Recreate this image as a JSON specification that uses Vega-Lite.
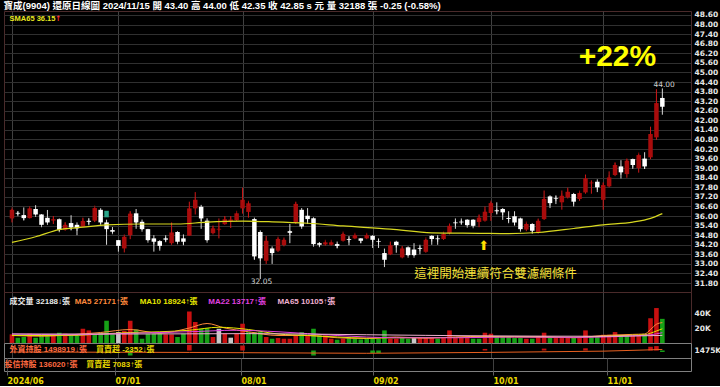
{
 "$schema": "https://vega.github.io/schema/vega-lite/v6.json",
 "background": "#000000",
 "padding": {"left": 3, "top": 0, "right": 0, "bottom": 0},
 "spacing": 0,
 "bounds": "flush",
 "title": {"text": "寶成(9904)    還原日線圖   2024/11/15  開 43.40  高 44.00  低 42.35  收 42.85 s 元  量 32188 張  -0.25 (-0.58%)", "anchor": "start", "color": "#ffffff", "fontSize": 9.5, "font": "Liberation Sans, 'Noto Sans CJK TC'", "fontWeight": "bold", "offset": 1, "dy": 1},
 "config": {
  "view": {"stroke": "#4a2a2a"},
  "axis": {"labelFont": "DejaVu Sans", "labelFontWeight": "bold", "labelFontSize": 7.5, "labelColor": "#e6e6e6", "title": null, "labelOverlap": false}
 },
 "datasets": {
  "candles": [
   {"i":0,"o":35.85,"h":36.45,"l":35.6,"c":36.39,"v":11500,"vc":"r"},
   {"i":1,"o":36.2,"h":36.3,"l":36.05,"c":36.15,"v":7100,"vc":"g"},
   {"i":2,"o":36.06,"h":36.54,"l":35.74,"c":35.87,"v":8000,"vc":"g"},
   {"i":3,"o":35.87,"h":36.54,"l":35.85,"c":36.48,"v":12400,"vc":"r"},
   {"i":4,"o":36.44,"h":36.68,"l":36.06,"c":36.1,"v":7100,"vc":"g"},
   {"i":5,"o":36.1,"h":36.12,"l":35.42,"c":35.45,"v":9300,"vc":"g"},
   {"i":6,"o":35.89,"h":36.38,"l":35.54,"c":35.6,"v":9300,"vc":"g"},
   {"i":7,"o":35.72,"h":36.0,"l":35.5,"c":35.8,"v":10200,"vc":"r"},
   {"i":8,"o":35.8,"h":35.85,"l":35.05,"c":35.14,"v":13700,"vc":"g"},
   {"i":9,"o":35.14,"h":35.6,"l":35.08,"c":35.45,"v":12400,"vc":"r"},
   {"i":10,"o":35.56,"h":36.05,"l":35.1,"c":35.29,"v":11000,"vc":"g"},
   {"i":11,"o":35.45,"h":35.6,"l":34.8,"c":35.23,"v":11000,"vc":"g"},
   {"i":12,"o":35.33,"h":35.9,"l":35.3,"c":35.69,"v":19000,"vc":"r"},
   {"i":13,"o":35.7,"h":35.88,"l":35.42,"c":35.64,"v":16800,"vc":"r"},
   {"i":14,"o":35.71,"h":36.54,"l":35.62,"c":36.5,"v":11500,"vc":"g"},
   {"i":15,"o":36.39,"h":36.49,"l":35.5,"c":35.6,"v":13700,"vc":"g"},
   {"i":16,"o":35.6,"h":35.77,"l":34.2,"c":35.18,"v":29700,"vc":"g"},
   {"i":17,"o":35.12,"h":35.31,"l":34.95,"c":35.02,"v":11500,"vc":"g"},
   {"i":18,"o":34.49,"h":34.49,"l":33.77,"c":34.13,"v":14600,"vc":"w"},
   {"i":19,"o":33.97,"h":34.77,"l":33.72,"c":34.7,"v":16000,"vc":"r"},
   {"i":20,"o":34.8,"h":36.3,"l":34.55,"c":36.15,"v":29700,"vc":"r"},
   {"i":21,"o":36.17,"h":36.44,"l":35.2,"c":35.6,"v":18100,"vc":"g"},
   {"i":22,"o":35.64,"h":35.78,"l":35.12,"c":35.18,"v":5700,"vc":"g"},
   {"i":23,"o":35.18,"h":35.2,"l":34.45,"c":34.49,"v":12400,"vc":"g"},
   {"i":24,"o":34.6,"h":34.8,"l":33.77,"c":34.39,"v":12400,"vc":"g"},
   {"i":25,"o":34.43,"h":34.49,"l":33.83,"c":34.13,"v":12400,"vc":"g"},
   {"i":26,"o":34.6,"h":34.8,"l":34.4,"c":34.52,"v":11500,"vc":"r"},
   {"i":27,"o":34.3,"h":35.6,"l":34.2,"c":34.97,"v":11500,"vc":"r"},
   {"i":28,"o":35.0,"h":35.05,"l":34.35,"c":34.39,"v":8000,"vc":"g"},
   {"i":29,"o":34.6,"h":34.85,"l":34.17,"c":34.39,"v":12400,"vc":"g"},
   {"i":30,"o":34.77,"h":36.9,"l":34.77,"c":36.48,"v":42000,"vc":"r"},
   {"i":31,"o":36.48,"h":37.5,"l":36.1,"c":37.02,"v":28000,"vc":"r"},
   {"i":32,"o":36.58,"h":36.7,"l":35.2,"c":35.85,"v":19000,"vc":"g"},
   {"i":33,"o":35.71,"h":35.86,"l":34.45,"c":34.49,"v":19900,"vc":"g"},
   {"i":34,"o":34.93,"h":35.4,"l":34.85,"c":35.23,"v":8000,"vc":"r"},
   {"i":35,"o":35.15,"h":35.85,"l":34.6,"c":35.2,"v":19000,"vc":"w"},
   {"i":36,"o":35.49,"h":36.0,"l":35.45,"c":35.8,"v":12400,"vc":"r"},
   {"i":37,"o":35.7,"h":36.0,"l":35.25,"c":35.78,"v":7100,"vc":"w"},
   {"i":38,"o":35.74,"h":36.2,"l":35.7,"c":36.17,"v":12400,"vc":"r"},
   {"i":39,"o":36.48,"h":37.78,"l":36.15,"c":37.02,"v":25700,"vc":"r"},
   {"i":40,"o":36.26,"h":36.9,"l":35.9,"c":36.8,"v":14600,"vc":"g"},
   {"i":41,"o":35.81,"h":35.9,"l":33.25,"c":33.47,"v":14600,"vc":"g"},
   {"i":42,"o":35.0,"h":35.1,"l":32.05,"c":33.35,"v":14600,"vc":"g"},
   {"i":43,"o":33.2,"h":34.75,"l":33.0,"c":34.45,"v":8000,"vc":"r"},
   {"i":44,"o":33.97,"h":34.1,"l":33.0,"c":33.68,"v":5700,"vc":"g"},
   {"i":45,"o":33.83,"h":34.65,"l":33.75,"c":34.56,"v":6600,"vc":"r"},
   {"i":46,"o":34.18,"h":34.6,"l":34.1,"c":34.51,"v":5700,"vc":"r"},
   {"i":47,"o":35.05,"h":35.5,"l":34.3,"c":34.95,"v":5700,"vc":"r"},
   {"i":48,"o":35.6,"h":36.87,"l":35.5,"c":36.76,"v":10200,"vc":"r"},
   {"i":49,"o":36.39,"h":36.5,"l":35.29,"c":35.35,"v":14600,"vc":"g"},
   {"i":50,"o":36.02,"h":36.5,"l":35.5,"c":35.81,"v":10200,"vc":"r"},
   {"i":51,"o":35.86,"h":35.92,"l":34.2,"c":34.24,"v":19000,"vc":"g"},
   {"i":52,"o":34.3,"h":34.35,"l":34.1,"c":34.2,"v":10200,"vc":"g"},
   {"i":53,"o":34.22,"h":34.4,"l":34.15,"c":34.35,"v":10200,"vc":"r"},
   {"i":54,"o":34.2,"h":34.4,"l":34.15,"c":34.35,"v":5700,"vc":"r"},
   {"i":55,"o":34.24,"h":34.4,"l":34.0,"c":34.13,"v":4400,"vc":"g"},
   {"i":56,"o":34.45,"h":34.95,"l":34.4,"c":34.87,"v":5700,"vc":"r"},
   {"i":57,"o":34.55,"h":34.75,"l":34.17,"c":34.5,"v":6600,"vc":"g"},
   {"i":58,"o":34.6,"h":34.85,"l":34.55,"c":34.8,"v":5700,"vc":"g"},
   {"i":59,"o":34.6,"h":34.6,"l":34.3,"c":34.45,"v":4800,"vc":"g"},
   {"i":60,"o":34.6,"h":34.85,"l":34.55,"c":34.8,"v":5700,"vc":"g"},
   {"i":61,"o":34.76,"h":34.8,"l":34.0,"c":34.51,"v":5700,"vc":"g"},
   {"i":62,"o":34.42,"h":34.6,"l":34.0,"c":34.38,"v":5700,"vc":"g"},
   {"i":63,"o":33.68,"h":33.96,"l":32.8,"c":33.26,"v":16800,"vc":"g"},
   {"i":64,"o":33.6,"h":34.4,"l":33.55,"c":34.17,"v":5700,"vc":"r"},
   {"i":65,"o":34.39,"h":34.45,"l":33.7,"c":34.18,"v":5700,"vc":"r"},
   {"i":66,"o":33.41,"h":34.1,"l":33.35,"c":33.97,"v":6600,"vc":"g"},
   {"i":67,"o":34.04,"h":34.1,"l":33.5,"c":33.55,"v":5700,"vc":"g"},
   {"i":68,"o":33.9,"h":34.3,"l":33.5,"c":33.55,"v":6600,"vc":"w"},
   {"i":69,"o":34.0,"h":34.2,"l":33.6,"c":33.95,"v":6600,"vc":"r"},
   {"i":70,"o":33.76,"h":34.56,"l":33.7,"c":34.51,"v":6600,"vc":"r"},
   {"i":71,"o":34.76,"h":34.8,"l":34.2,"c":34.56,"v":6600,"vc":"r"},
   {"i":72,"o":34.6,"h":34.8,"l":34.2,"c":34.55,"v":5700,"vc":"g"},
   {"i":73,"o":34.56,"h":34.95,"l":34.5,"c":34.87,"v":6600,"vc":"r"},
   {"i":74,"o":34.93,"h":35.5,"l":34.85,"c":35.39,"v":16800,"vc":"r"},
   {"i":75,"o":35.6,"h":35.85,"l":35.2,"c":35.55,"v":6600,"vc":"r"},
   {"i":76,"o":35.65,"h":35.85,"l":35.5,"c":35.6,"v":6600,"vc":"r"},
   {"i":77,"o":35.77,"h":35.8,"l":35.4,"c":35.43,"v":6600,"vc":"r"},
   {"i":78,"o":35.77,"h":35.8,"l":35.35,"c":35.39,"v":5700,"vc":"g"},
   {"i":79,"o":35.63,"h":36.1,"l":35.3,"c":35.9,"v":5700,"vc":"g"},
   {"i":80,"o":35.71,"h":36.6,"l":35.65,"c":36.27,"v":13700,"vc":"r"},
   {"i":81,"o":36.19,"h":36.9,"l":35.7,"c":36.81,"v":12400,"vc":"r"},
   {"i":82,"o":36.36,"h":36.86,"l":36.1,"c":36.3,"v":8000,"vc":"g"},
   {"i":83,"o":36.44,"h":36.5,"l":35.76,"c":36.23,"v":8000,"vc":"g"},
   {"i":84,"o":35.88,"h":36.3,"l":35.55,"c":35.82,"v":8000,"vc":"g"},
   {"i":85,"o":35.98,"h":36.3,"l":35.4,"c":35.6,"v":6600,"vc":"g"},
   {"i":86,"o":35.85,"h":35.9,"l":35.1,"c":35.18,"v":6600,"vc":"g"},
   {"i":87,"o":35.15,"h":35.55,"l":35.05,"c":35.5,"v":5700,"vc":"r"},
   {"i":88,"o":35.5,"h":35.55,"l":34.9,"c":35.08,"v":5700,"vc":"g"},
   {"i":89,"o":34.97,"h":35.8,"l":34.9,"c":35.7,"v":9300,"vc":"r"},
   {"i":90,"o":35.81,"h":37.6,"l":35.75,"c":37.07,"v":13700,"vc":"r"},
   {"i":91,"o":37.23,"h":37.3,"l":36.5,"c":36.81,"v":8000,"vc":"g"},
   {"i":92,"o":37.12,"h":37.3,"l":36.75,"c":37.08,"v":6600,"vc":"r"},
   {"i":93,"o":36.86,"h":37.6,"l":36.4,"c":37.27,"v":6600,"vc":"r"},
   {"i":94,"o":37.17,"h":37.78,"l":37.1,"c":37.52,"v":6600,"vc":"r"},
   {"i":95,"o":37.38,"h":37.45,"l":36.6,"c":36.9,"v":6600,"vc":"g"},
   {"i":96,"o":37.07,"h":37.48,"l":36.95,"c":37.44,"v":6600,"vc":"r"},
   {"i":97,"o":37.48,"h":38.6,"l":37.4,"c":38.36,"v":16800,"vc":"r"},
   {"i":98,"o":38.05,"h":38.2,"l":37.4,"c":38.1,"v":8000,"vc":"g"},
   {"i":99,"o":38.15,"h":38.3,"l":37.5,"c":37.8,"v":8000,"vc":"g"},
   {"i":100,"o":37.02,"h":38.1,"l":36.4,"c":37.94,"v":11000,"vc":"r"},
   {"i":101,"o":37.86,"h":38.8,"l":37.8,"c":38.42,"v":11000,"vc":"r"},
   {"i":102,"o":38.57,"h":39.35,"l":38.5,"c":39.2,"v":14600,"vc":"r"},
   {"i":103,"o":39.11,"h":39.5,"l":38.35,"c":38.74,"v":10200,"vc":"g"},
   {"i":104,"o":38.63,"h":39.57,"l":38.4,"c":39.47,"v":10200,"vc":"g"},
   {"i":105,"o":39.57,"h":39.6,"l":38.95,"c":39.2,"v":10200,"vc":"r"},
   {"i":106,"o":39.0,"h":39.88,"l":38.72,"c":39.82,"v":11000,"vc":"r"},
   {"i":107,"o":39.6,"h":40.0,"l":38.95,"c":39.11,"v":12400,"vc":"g"},
   {"i":108,"o":39.68,"h":41.6,"l":39.57,"c":41.14,"v":33000,"vc":"r"},
   {"i":109,"o":40.93,"h":43.95,"l":40.78,"c":43.08,"v":46600,"vc":"r"},
   {"i":110,"o":43.4,"h":44.0,"l":42.35,"c":42.85,"v":32188,"vc":"g"}
  ],
  "sma": [
   {"i":0,"p":34.35},{"i":4,"p":34.7},{"i":8,"p":35.15},{"i":12,"p":35.3},{"i":16,"p":35.45},{"i":22,"p":35.5},{"i":28,"p":35.5},{"i":33,"p":35.62},{"i":39,"p":35.68},{"i":44,"p":35.64},{"i":50,"p":35.55},{"i":56,"p":35.38},{"i":64,"p":35.18},{"i":71,"p":34.95},{"i":79,"p":34.92},{"i":84,"p":34.9},{"i":89,"p":34.97},{"i":95,"p":35.22},{"i":100,"p":35.45},{"i":105,"p":35.62},{"i":108,"p":35.85},{"i":110,"p":36.15}
  ],
  "vma": [
   {"i":0,"m":"ma5","v":10000},{"i":5,"m":"ma5","v":9000},{"i":10,"m":"ma5","v":11000},{"i":15,"m":"ma5","v":14000},{"i":20,"m":"ma5","v":18000},{"i":25,"m":"ma5","v":13000},{"i":30,"m":"ma5","v":20000},{"i":33,"m":"ma5","v":26000},{"i":36,"m":"ma5","v":20000},{"i":40,"m":"ma5","v":15000},{"i":45,"m":"ma5","v":10000},{"i":50,"m":"ma5","v":10000},{"i":55,"m":"ma5","v":7000},{"i":60,"m":"ma5","v":6000},{"i":65,"m":"ma5","v":8000},{"i":70,"m":"ma5","v":6500},{"i":75,"m":"ma5","v":8000},{"i":80,"m":"ma5","v":9000},{"i":85,"m":"ma5","v":8000},{"i":90,"m":"ma5","v":8000},{"i":95,"m":"ma5","v":7000},{"i":100,"m":"ma5","v":10000},{"i":105,"m":"ma5","v":11500},{"i":107,"m":"ma5","v":12000},{"i":108,"m":"ma5","v":18000},{"i":109,"m":"ma5","v":25000},{"i":110,"m":"ma5","v":27171},
   {"i":0,"m":"ma10","v":10000},{"i":10,"m":"ma10","v":10000},{"i":15,"m":"ma10","v":12000},{"i":20,"m":"ma10","v":14000},{"i":25,"m":"ma10","v":15000},{"i":30,"m":"ma10","v":17000},{"i":35,"m":"ma10","v":21000},{"i":40,"m":"ma10","v":18000},{"i":45,"m":"ma10","v":12000},{"i":50,"m":"ma10","v":10000},{"i":55,"m":"ma10","v":8000},{"i":60,"m":"ma10","v":6500},{"i":65,"m":"ma10","v":7000},{"i":70,"m":"ma10","v":7000},{"i":75,"m":"ma10","v":7500},{"i":80,"m":"ma10","v":8000},{"i":85,"m":"ma10","v":8500},{"i":90,"m":"ma10","v":8000},{"i":95,"m":"ma10","v":7500},{"i":100,"m":"ma10","v":9000},{"i":105,"m":"ma10","v":10500},{"i":107,"m":"ma10","v":11000},{"i":108,"m":"ma10","v":13000},{"i":109,"m":"ma10","v":16000},{"i":110,"m":"ma10","v":18924},
   {"i":0,"m":"ma22","v":12000},{"i":10,"m":"ma22","v":11000},{"i":20,"m":"ma22","v":13000},{"i":30,"m":"ma22","v":15000},{"i":38,"m":"ma22","v":17000},{"i":45,"m":"ma22","v":15000},{"i":55,"m":"ma22","v":10000},{"i":65,"m":"ma22","v":7000},{"i":75,"m":"ma22","v":7000},{"i":85,"m":"ma22","v":8000},{"i":95,"m":"ma22","v":7500},{"i":105,"m":"ma22","v":9500},{"i":108,"m":"ma22","v":11000},{"i":110,"m":"ma22","v":13717},
   {"i":0,"m":"ma65","v":12000},{"i":20,"m":"ma65","v":12000},{"i":40,"m":"ma65","v":12500},{"i":60,"m":"ma65","v":11000},{"i":80,"m":"ma65","v":9500},{"i":100,"m":"ma65","v":9000},{"i":110,"m":"ma65","v":10105}
  ]
 },
 "vconcat": [
  {
   "width": 687, "height": 281,
   "encoding": {
    "x": {"field": "i", "type": "quantitative", "scale": {"domain": [-0.5, 114], "nice": false, "zero": false},
          "axis": {"values": [0, 18, 39, 61, 81, 100], "labels": false, "ticks": false, "domain": false, "grid": true, "gridColor": "#404040", "tickCount": 20}}
   },
   "layer": [
    {"data": {"name": "candles"}, "mark": {"type": "rule", "strokeWidth": 1},
     "encoding": {
      "y": {"field": "l", "type": "quantitative", "scale": {"domain": [31.24, 48.85], "nice": false, "zero": false},
            "axis": {"orient": "right", "values": [31.8,32.4,33,33.6,34.2,34.8,35.4,36,36.6,37.2,37.8,38.4,39,39.6,40.2,40.8,41.4,42,42.6,43.2,43.8,44.4,45,45.6,46.2,46.8,47.4,48,48.6], "tickCount": 60, "format": ".2f", "grid": true, "gridColor": "#303030", "domain": false, "ticks": false, "labelPadding": 3, "labelFontSize": 7.5, "labelOverlap": false, "labelBound": false}},
      "y2": {"field": "h"},
      "color": {"condition": {"test": "datum.c >= datum.o", "value": "#d01818"}, "value": "#d8d8d8"}
     }},
    {"data": {"name": "candles"}, "mark": {"type": "bar", "width": 4.5},
     "encoding": {
      "y": {"field": "o", "type": "quantitative"},
      "y2": {"field": "c"},
      "color": {"condition": {"test": "datum.c >= datum.o", "value": "#a80c0c"}, "value": "#ffffff"}
     }},
    {"data": {"name": "candles"}, "mark": {"type": "tick", "width": 5, "thickness": 1},
     "encoding": {
      "y": {"field": "c", "type": "quantitative"},
      "color": {"condition": {"test": "datum.c >= datum.o", "value": "#c01010"}, "value": "#ffffff"}
     }},
    {"data": {"values": [{"i": 16, "top": 36.33, "bot": 35.92}]}, "mark": {"type": "bar", "width": 4.5, "color": "#2aa58a"},
     "encoding": {"y": {"field": "top", "type": "quantitative"}, "y2": {"field": "bot"}}},
    {"data": {"name": "sma"}, "mark": {"type": "line", "color": "#d8d820", "strokeWidth": 1.2, "interpolate": "monotone"},
     "encoding": {"y": {"field": "p", "type": "quantitative"}}},
    {"data": {"values": [{"i": 102.4, "p": 45.97, "t": "+22%"}]},
     "mark": {"type": "text", "font": "Liberation Sans", "fontWeight": "bold", "fontSize": 30, "color": "#ffff00", "align": "center", "baseline": "middle"},
     "encoding": {"y": {"field": "p", "type": "quantitative"}, "text": {"field": "t"}}},
    {"data": {"values": [{"i": 110.3, "p": 44.2, "t": "44.00"}, {"i": 42.2, "p": 31.88, "t": "32.05"}]},
     "mark": {"type": "text", "font": "DejaVu Sans", "fontSize": 7.5, "color": "#d0d0d0", "align": "center", "baseline": "middle"},
     "encoding": {"y": {"field": "p", "type": "quantitative"}, "text": {"field": "t"}}},
    {"data": {"values": [{"i": 79.8, "p": 34.12, "t": "⬆"}]},
     "mark": {"type": "text", "font": "DejaVu Sans", "fontSize": 13, "color": "#ffe000", "align": "center", "baseline": "middle"},
     "encoding": {"y": {"field": "p", "type": "quantitative"}, "text": {"field": "t"}}},
    {"data": {"values": [{"i": 81.8, "p": 32.36, "t": "這裡開始連續符合雙濾網條件"}]},
     "mark": {"type": "text", "font": "Noto Sans CJK TC", "fontSize": 12.5, "color": "#f5e03a", "align": "center", "baseline": "middle"},
     "encoding": {"y": {"field": "p", "type": "quantitative"}, "text": {"field": "t"}}},
    {"data": {"values": [{"i": -0.4, "p": 48.33, "t": "SMA65 36.15"}]},
     "mark": {"type": "text", "font": "Liberation Sans", "fontWeight": "bold", "fontSize": 7.5, "color": "#e8e820", "align": "left", "baseline": "middle"},
     "encoding": {"y": {"field": "p", "type": "quantitative"}, "text": {"field": "t"}}},
    {"data": {"values": [{"i": 7.3, "p": 48.33, "t": "↑"}]},
     "mark": {"type": "text", "font": "DejaVu Sans", "fontWeight": "bold", "fontSize": 7.5, "color": "#ff3030", "align": "left", "baseline": "middle"},
     "encoding": {"y": {"field": "p", "type": "quantitative"}, "text": {"field": "t"}}}
   ]
  },
  {
   "width": 687, "height": 51,
   "resolve": {"scale": {"color": "independent"}},
   "encoding": {
    "x": {"field": "i", "type": "quantitative", "scale": {"domain": [-0.5, 114], "nice": false, "zero": false},
          "axis": {"values": [0, 18, 39, 61, 81, 100], "labels": false, "ticks": false, "domain": false, "grid": true, "gridColor": "#404040", "tickCount": 20}}
   },
   "layer": [
    {"data": {"name": "candles"}, "mark": {"type": "bar", "width": 4.6},
     "encoding": {
      "y": {"field": "v", "type": "quantitative", "scale": {"domain": [0, 68000], "nice": false},
            "axis": {"orient": "right", "values": [20000, 40000], "tickCount": 10, "labelExpr": "datum.value/1000 + 'K'", "grid": false, "domain": false, "ticks": false, "labelPadding": 3}},
      "color": {"field": "vc", "type": "nominal", "scale": {"domain": ["r", "g", "w"], "range": ["#c81010", "#16a016", "#c8c8c8"]}, "legend": null}
     }},
    {"data": {"name": "vma"}, "mark": {"type": "line", "strokeWidth": 1, "interpolate": "monotone"},
     "encoding": {
      "y": {"field": "v", "type": "quantitative"},
      "color": {"field": "m", "type": "nominal", "scale": {"domain": ["ma5", "ma10", "ma22", "ma65"], "range": ["#ff8a3c", "#e6e600", "#e040e0", "#f0b0d0"]}, "legend": null}
     }},
    {"data": {"values": [
      {"i": -0.4, "y": 55000, "t": "成交量 32188↓張", "k": "vol"},
      {"i": 10.6, "y": 55000, "t": "MA5 27171↑張", "k": "ma5"},
      {"i": 21.6, "y": 55000, "t": "MA10 18924↑張", "k": "ma10"},
      {"i": 33.2, "y": 55000, "t": "MA22 13717↑張", "k": "ma22"},
      {"i": 44.9, "y": 55000, "t": "MA65 10105↑張", "k": "ma65"}]},
     "mark": {"type": "text", "font": "Liberation Sans, 'Noto Sans CJK TC'", "fontWeight": "bold", "fontSize": 8, "align": "left", "baseline": "middle"},
     "encoding": {
      "y": {"field": "y", "type": "quantitative"},
      "text": {"field": "t"},
      "color": {"field": "k", "type": "nominal", "scale": {"domain": ["vol", "ma5", "ma10", "ma22", "ma65"], "range": ["#e8e8e8", "#ff8a3c", "#e6e600", "#e040e0", "#f0b0d0"]}, "legend": null}
     }}
   ]
  },
  {
   "width": 687, "height": 15,
   "view": {"stroke": "#808080"},
   "resolve": {"scale": {"y": "independent"}},
   "encoding": {
    "x": {"field": "i", "type": "quantitative", "scale": {"domain": [-0.5, 114], "nice": false, "zero": false},
          "axis": {"values": [0, 18, 39, 61, 81, 100], "labels": false, "ticks": false, "domain": false, "grid": true, "gridColor": "#404040", "tickCount": 20}}
   },
   "layer": [
    {"data": {"values": [{"i": 12, "n": 3000}, {"i": 20, "n": -8000}, {"i": 30, "n": 9000}, {"i": 39, "n": 8000}, {"i": 51, "n": -8000}, {"i": 61, "n": -4000}, {"i": 62, "n": -4000}, {"i": 80, "n": 2500}, {"i": 90, "n": 3000}, {"i": 97, "n": 3500}, {"i": 108, "n": 6000}, {"i": 109, "n": 7000}, {"i": 110, "n": -2352}]},
     "mark": {"type": "bar", "width": 4.6},
     "encoding": {
      "y": {"field": "n", "type": "quantitative", "scale": {"domain": [-12000, 12000], "nice": false}, "axis": null},
      "color": {"condition": {"test": "datum.n > 0", "value": "#c81010"}, "value": "#16a016"}
     }},
    {"data": {"values": [{"i": 0, "h": 1468000}, {"i": 30, "h": 1466000}, {"i": 60, "h": 1462000}, {"i": 80, "h": 1466000}, {"i": 100, "h": 1472000}, {"i": 108, "h": 1478000}, {"i": 110, "h": 1480000}]},
     "mark": {"type": "line", "color": "#e86020", "strokeWidth": 1},
     "encoding": {
      "y": {"field": "h", "type": "quantitative", "scale": {"domain": [1440000, 1510000], "nice": false, "zero": false},
            "axis": {"orient": "right", "values": [1475000], "labelExpr": "'1475K'", "grid": false, "domain": false, "ticks": false, "labelPadding": 3}}
     }},
    {"data": {"values": [{"i": -0.4, "y": 0.55, "t": "外資持股 1498919↓張"}, {"i": 14.2, "y": 0.55, "t": "買賣超 -2352↓張"}]},
     "mark": {"type": "text", "font": "Liberation Sans, 'Noto Sans CJK TC'", "fontWeight": "bold", "fontSize": 8, "align": "left", "baseline": "middle"},
     "encoding": {
      "y": {"field": "y", "type": "quantitative", "scale": {"domain": [0, 1]}, "axis": null},
      "text": {"field": "t"},
      "color": {"condition": {"test": "datum.i < 5", "value": "#ff6a40"}, "value": "#e8d800"}
     }}
   ]
  },
  {
   "width": 687, "height": 13,
   "view": {"stroke": "#808080"},
   "encoding": {
    "x": {"field": "i", "type": "quantitative", "scale": {"domain": [-0.5, 114], "nice": false, "zero": false},
          "axis": {"values": [0, 18, 39, 61, 81, 100], "tickCount": 20, "labelExpr": "datum.value == 0 ? '2024/06' : datum.value == 18 ? '07/01' : datum.value == 39 ? '08/01' : datum.value == 61 ? '09/02' : datum.value == 81 ? '10/01' : '11/01'",
                   "labelColor": "#e8d800", "labelFontSize": 8, "labelAlign": "left", "labelPadding": 2, "ticks": true, "tickColor": "#606060", "tickSize": 4, "domain": false, "grid": true, "gridColor": "#404040"}}
   },
   "layer": [
    {"data": {"values": [{"i": -0.4, "y": 0.45, "t": "投信持股 136020↑張"}, {"i": 13.2, "y": 0.45, "t": "買賣超 7083↑張"}]},
     "mark": {"type": "text", "font": "Liberation Sans, 'Noto Sans CJK TC'", "fontWeight": "bold", "fontSize": 8, "align": "left", "baseline": "middle"},
     "encoding": {
      "y": {"field": "y", "type": "quantitative", "scale": {"domain": [0, 1]}, "axis": null},
      "text": {"field": "t"},
      "color": {"condition": {"test": "datum.i < 5", "value": "#ff6a40"}, "value": "#e8d800"}
     }}
   ]
  }
 ]
}
